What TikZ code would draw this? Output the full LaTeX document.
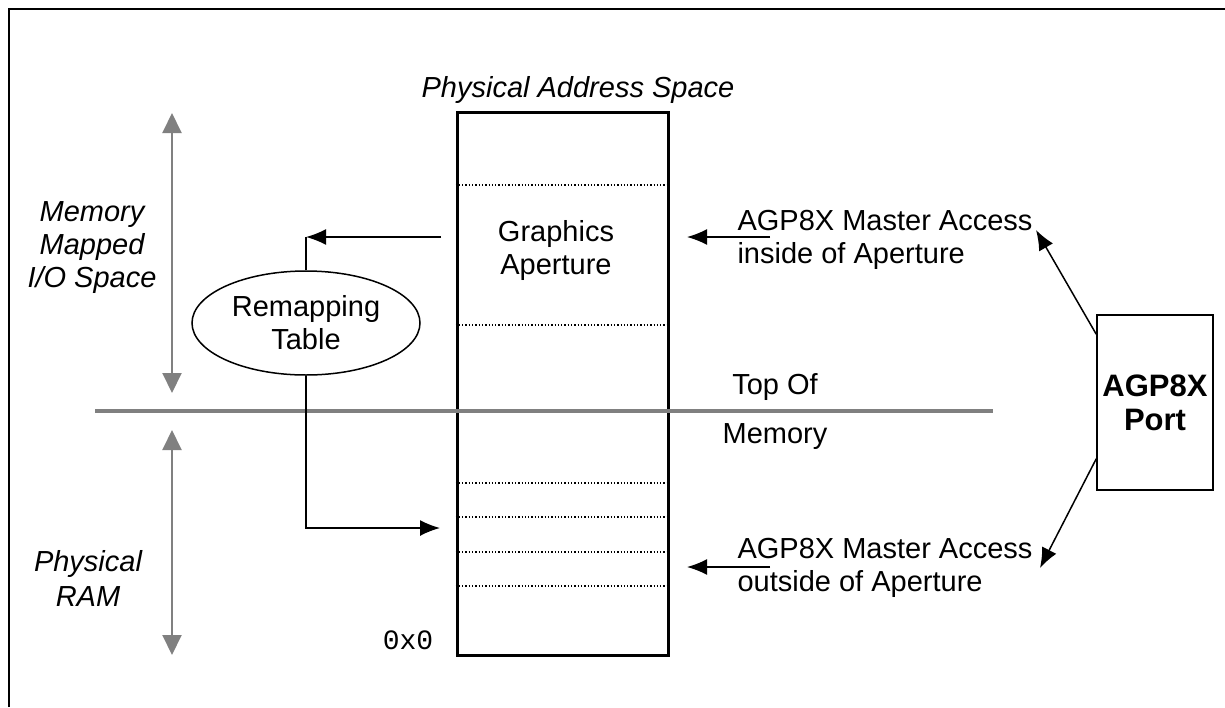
\documentclass[tikz,border=0pt]{standalone}
\usepackage{fontspec}
\setmainfont{Liberation Sans}
\newfontfamily\monofont{Liberation Mono}
\usepackage{xcolor}
\usetikzlibrary{arrows.meta, shapes.geometric, positioning}
\definecolor{spangray}{RGB}{128,128,128}

\begin{document}
\begin{tikzpicture}[x=1pt, y=-1pt, font=\fontsize{29}{33}\selectfont,
  tip/.style={-{Latex[length=20pt,width=16pt]}, line width=1.5pt},
  span/.style={{Triangle[length=20pt,width=19pt]}-{Triangle[length=20pt,width=19pt]}, spangray, line width=2pt},
  sep/.style={dotted, line width=1.3pt}]
  \useasboundingbox (0,0) rectangle (1225,707);

  % Marco
  \draw[line width=2.5pt] (9,707) -- (9,9) -- (1225,9);

  % Espacio de direcciones fisicas
  \node[font=\fontsize{29}{33}\selectfont\itshape] (title) at (578,90) {Physical Address Space};
  \node[draw, line width=3pt, minimum width=211pt, minimum height=543pt] (mem) at (562.5,383.5) {};
  \foreach \y in {185,325,483,517,552,586} {
    \draw[sep] (mem.west |- 0,\y) -- (mem.east |- 0,\y);
  }
  \node[align=center] (gap) at (556,250) {Graphics\\Aperture};
  \node[font=\monofont\fontsize{28}{32}\selectfont] (zero) at (408,640) {0x0};

  % Limite: Top Of Memory
  \draw[spangray, line width=4pt] (95,411) -- (993,411);
  \node[align=center] (tom) at (775,412) {Top Of\\[16pt]Memory};

  % Regiones a la izquierda
  \draw[span] (172,113) -- (172,393);
  \draw[span] (172,430) -- (172,655);
  \node[align=center, font=\fontsize{29}{33}\selectfont\itshape] (mmio) at (92,248) {Memory\\Mapped\\I/O Space};
  \node[align=center, font=\fontsize{29}{35}\selectfont\itshape] (ram) at (88,578) {Physical\\RAM};

  % Tabla de remapeo
  \node[ellipse, draw, line width=1.5pt, minimum width=228pt, minimum height=104pt,
    inner sep=0pt, align=center] (remap) at (306,323) {Remapping\\Table};
  \coordinate (apOut) at (441,237);
  \coordinate (apCorner) at (remap.north |- apOut);
  \coordinate (ramIn) at (440,528);
  \draw[tip] (apOut) -- (apCorner);
  \draw[line width=1.5pt] (remap.north) -- (apCorner);
  \draw[tip] (remap.south) |- (ramIn);

  % Accesos del maestro AGP8X
  \node[align=left, anchor=west] (inAcc) at (734,240) {AGP8X Master Access\\inside of Aperture};
  \node[align=left, anchor=west] (outAcc) at (734,568) {AGP8X Master Access\\outside of Aperture};
  \coordinate (inFrom) at (770,237);
  \coordinate (inTo) at (687,237);
  \coordinate (outFrom) at (770,567);
  \coordinate (outTo) at (687,567);
  \draw[tip] (inFrom) -- (inTo);
  \draw[tip] (outFrom) -- (outTo);

  % Puerto AGP8X
  \node[draw, line width=1.5pt, minimum width=116pt, minimum height=175pt, align=center,
    font=\fontsize{31}{34}\selectfont\bfseries] (port) at (1155,402.5) {AGP8X\\Port};
  \coordinate (inTip) at (1036,230);
  \coordinate (outTip) at (1040,568);
  \draw[tip] ([yshift=-20pt]port.north west) -- (inTip);
  \draw[tip] ([yshift=32pt]port.south west) -- (outTip);
\end{tikzpicture}
\end{document}
